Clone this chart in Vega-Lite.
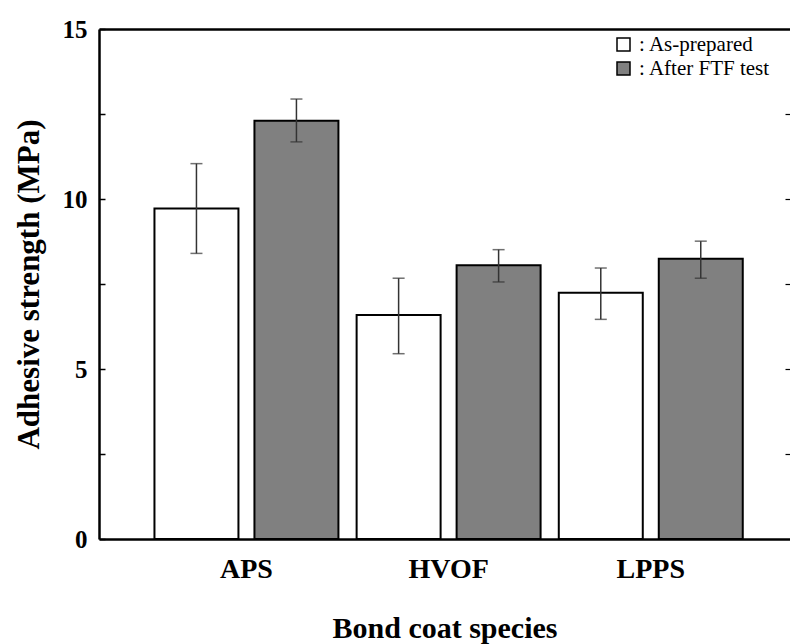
{
  "$schema": "https://vega.github.io/schema/vega-lite/v6.json",
  "width": 691,
  "height": 510,
  "autosize": {"type": "none"},
  "padding": {"left": 99, "top": 29, "right": 0, "bottom": 105},
  "background": "white",
  "config": {
    "view": {"stroke": null},
    "font": "Liberation Serif",
    "axis": {"grid": false, "domainColor": "black", "tickColor": "black", "labelColor": "black", "titleColor": "black", "labelFont": "Liberation Serif", "titleFont": "Liberation Serif", "labelFontWeight": "bold", "titleFontWeight": "bold"},
    "legend": {"labelFont": "Liberation Serif", "labelFontSize": 21, "labelColor": "black", "padding": 0}
  },
  "data": {
    "values": [
      {"site": "APS", "cond": "As-prepared", "value": 9.72, "lo": 8.40, "hi": 11.04},
      {"site": "APS", "cond": "After FTF test", "value": 12.30, "lo": 11.68, "hi": 12.94},
      {"site": "HVOF", "cond": "As-prepared", "value": 6.59, "lo": 5.45, "hi": 7.67},
      {"site": "HVOF", "cond": "After FTF test", "value": 8.05, "lo": 7.56, "hi": 8.51},
      {"site": "LPPS", "cond": "As-prepared", "value": 7.24, "lo": 6.46, "hi": 7.97},
      {"site": "LPPS", "cond": "After FTF test", "value": 8.24, "lo": 7.67, "hi": 8.76}
    ]
  },
  "resolve": {"axis": {"x": "independent", "y": "independent"}},
  "layer": [
    {
      "mark": {"type": "bar", "stroke": "black", "strokeWidth": 2},
      "encoding": {
        "x": {
          "field": "site", "type": "nominal", "sort": ["APS", "HVOF", "LPPS"],
          "scale": {"paddingInner": 0.09, "paddingOuter": 0.254, "align": 0.54},
          "axis": {"orient": "bottom", "title": "Bond coat species", "titleFontSize": 30, "titlePadding": 30, "labelFontSize": 28, "labelPadding": 16, "labelAngle": 0, "ticks": false, "domainWidth": 2.5}
        },
        "xOffset": {"field": "cond", "type": "nominal", "sort": ["As-prepared", "After FTF test"], "scale": {"paddingInner": 0.16, "paddingOuter": 0}},
        "y": {
          "field": "value", "type": "quantitative",
          "scale": {"domain": [0, 15], "nice": false, "zero": true},
          "axis": {"orient": "left", "title": "Adhesive strength (MPa)", "titleFontSize": 31, "titlePadding": 17, "values": [0, 2.5, 5, 7.5, 10, 12.5, 15], "labelExpr": "datum.value % 5 == 0 ? datum.label : ''", "labelFontSize": 25, "labelPadding": 18, "tickSize": -6, "tickWidth": 1.5, "domainWidth": 2.5}
        },
        "fill": {
          "field": "cond", "type": "nominal",
          "scale": {"domain": ["As-prepared", "After FTF test"], "range": ["white", "#808080"]},
          "legend": {"title": null, "orient": "none", "legendX": 514, "legendY": 5, "symbolType": "square", "symbolSize": 169, "symbolStrokeColor": "black", "symbolStrokeWidth": 1.5, "labelExpr": "': ' + datum.label", "rowPadding": 2, "labelOffset": 5, "labelLimit": 400}
        }
      }
    },
    {
      "mark": {"type": "rule", "color": "#333333", "strokeWidth": 1.5},
      "encoding": {
        "x": {"field": "site", "type": "nominal", "sort": ["APS", "HVOF", "LPPS"], "axis": {"orient": "top", "title": null, "labels": false, "ticks": false, "domainWidth": 2.5}},
        "xOffset": {"field": "cond", "type": "nominal", "sort": ["As-prepared", "After FTF test"]},
        "y": {"field": "lo", "type": "quantitative", "axis": {"orient": "right", "title": null, "labels": false, "domain": false, "values": [2.5, 5, 7.5, 10, 12.5], "tickSize": -5, "tickWidth": 1.2}},
        "y2": {"field": "hi"}
      }
    },
    {
      "mark": {"type": "tick", "color": "#333333", "size": 12, "thickness": 1.5},
      "encoding": {
        "x": {"field": "site", "type": "nominal", "sort": ["APS", "HVOF", "LPPS"], "axis": null},
        "xOffset": {"field": "cond", "type": "nominal", "sort": ["As-prepared", "After FTF test"]},
        "y": {"field": "lo", "type": "quantitative", "axis": null}
      }
    },
    {
      "mark": {"type": "tick", "color": "#333333", "size": 12, "thickness": 1.5},
      "encoding": {
        "x": {"field": "site", "type": "nominal", "sort": ["APS", "HVOF", "LPPS"], "axis": null},
        "xOffset": {"field": "cond", "type": "nominal", "sort": ["As-prepared", "After FTF test"]},
        "y": {"field": "hi", "type": "quantitative", "axis": null}
      }
    }
  ]
}
